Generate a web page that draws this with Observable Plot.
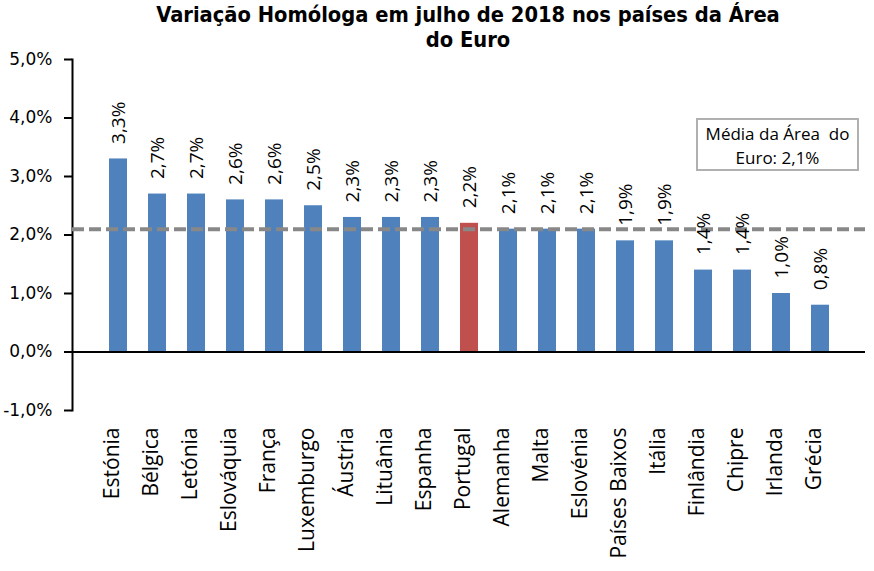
<!DOCTYPE html>
<html>
<head>
<meta charset="utf-8">
<script src="https://cdn.jsdelivr.net/npm/d3@7"></script>
<script src="https://cdn.jsdelivr.net/npm/@observablehq/plot@0.6"></script>
<style>
  body { margin: 0; background: #fff; }
  #wrap { position: relative; width: 874px; height: 571px; }
  #title {
    position: absolute; left: 0; top: 2px; width: 874px; box-sizing: border-box;
    padding-left: 62px; text-align: center;
    font-family: "DejaVu Sans Condensed", "DejaVu Sans", sans-serif; font-weight: bold;
    font-size: 21.7px; line-height: 25px; color: #000;
  }
  #legend {
    position: absolute; left: 696px; top: 118px; width: 163px; height: 53px; box-sizing: border-box;
    border: 2px solid #b0b0b0; background: #fff; text-align: center; white-space: pre;
    font-family: "Open Sans", sans-serif; font-size: 17px; line-height: 24px; padding-top: 2px; color: #000;
  }
</style>
</head>
<body>
<div id="wrap">
  <div id="title">Variação Homóloga em julho de 2018 nos países da Área<br>do Euro</div>
  <div id="chart"></div>
  <div id="legend">Média da Área  do<br>Euro: 2,1%</div>
</div>
<script>
const countries = ["Estónia","Bélgica","Letónia","Eslováquia","França","Luxemburgo","Áustria","Lituânia","Espanha","Portugal","Alemanha","Malta","Eslovénia","Países Baixos","Itália","Finlândia","Chipre","Irlanda","Grécia"];
const values = [3.3, 2.7, 2.7, 2.6, 2.6, 2.5, 2.3, 2.3, 2.3, 2.2, 2.1, 2.1, 2.1, 1.9, 1.9, 1.4, 1.4, 1.0, 0.8];
const euroAverage = 2.1;
const yTicks = [-1, 0, 1, 2, 3, 4, 5];
const highlight = "Portugal";

const data = countries.map((c, i) => ({country: c, value: values[i]}));
const fmt = v => v.toFixed(1).replace(".", ",") + "%";

const chart = Plot.plot({
  width: 874,
  height: 571,
  marginTop: 59,
  marginBottom: 161,
  marginLeft: 72,
  marginRight: 9,
  style: {background: "transparent", overflow: "visible"},
  x: {domain: countries, paddingInner: 0.54, paddingOuter: 0.71, axis: null},
  y: {domain: [-1, 5], axis: null},
  color: {type: "identity"},
  marks: [
    Plot.barY(data, {x: "country", y: "value", fill: d => d.country === highlight ? "#C0504D" : "#4F81BD"}),
    Plot.ruleY([0], {stroke: "#000", strokeWidth: 2}),
    Plot.frame({anchor: "left", stroke: "#000", strokeWidth: 2}),
    Plot.axisY({ticks: yTicks, tickFormat: fmt, tickSize: 8, tickPadding: 12, strokeWidth: 2, stroke: "#000",
      fontSize: 17, fontFamily: "DejaVu Sans", fill: "#000", label: null}),
    Plot.ruleY([euroAverage], {stroke: "#888", strokeWidth: 4, strokeDasharray: "12,5"}),
    Plot.text(data, {x: "country", y: "value", text: d => fmt(d.value), rotate: -90, textAnchor: "start",
      dy: -15, fontSize: 19, fontFamily: "Open Sans", fill: "#000"}),
    Plot.text(countries, {x: d => d, frameAnchor: "bottom", rotate: -90, textAnchor: "end", dy: 17,
      fontSize: 21, fontFamily: "Open Sans", fill: "#000"})
  ]
});
document.getElementById("chart").appendChild(chart);
</script>
</body>
</html>
